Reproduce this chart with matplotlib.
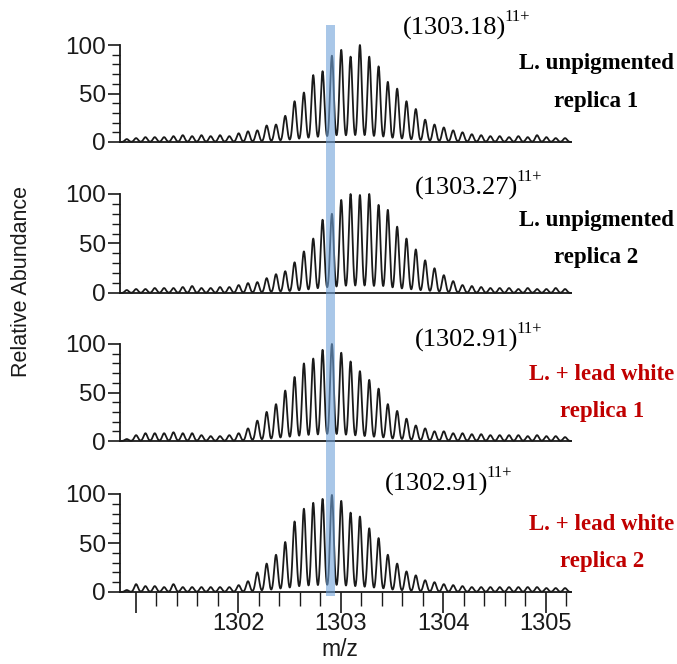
import numpy as np
import matplotlib
matplotlib.use('Agg')
import matplotlib.pyplot as plt
from matplotlib.ticker import MultipleLocator, FixedLocator

# ---------------- data ----------------
# isotope peak centroids (m/z) of the 11+ ion
mz = [1300.913, 1301.004, 1301.095, 1301.186, 1301.277, 1301.368, 1301.459, 1301.550,
      1301.641, 1301.731, 1301.822, 1301.913, 1302.004, 1302.095, 1302.186, 1302.277,
      1302.368, 1302.458, 1302.549, 1302.640, 1302.731, 1302.822, 1302.913, 1303.004,
      1303.095, 1303.186, 1303.277, 1303.368, 1303.458, 1303.549, 1303.640, 1303.731,
      1303.822, 1303.913, 1304.004, 1304.095, 1304.186, 1304.277, 1304.368, 1304.458,
      1304.549, 1304.640, 1304.731, 1304.822, 1304.913, 1305.004, 1305.095, 1305.186]

unpig_rep1 = [3, 4, 5, 5, 5, 6, 7, 6, 7, 6, 7, 6,
              9, 11, 12, 17, 18, 27, 42, 51, 69, 73,
              89, 95, 88, 100, 88, 78, 62, 55, 42, 34, 23, 18, 15, 12,
              10, 8, 7, 6, 6, 5, 6, 5, 7, 5, 4, 4]
unpig_rep2 = [3, 4, 4, 5, 5, 5, 6, 7, 5, 5, 6, 6,
              8, 10, 11, 15, 19, 22, 31, 42, 55, 74,
              80, 94, 100, 99, 100, 89, 84, 67, 55, 44, 33, 25, 18, 12,
              8, 7, 6, 5, 5, 5, 4, 5, 4, 4, 5, 4]
lead_rep1 = [2, 6, 8, 8, 8, 9, 8, 8, 6, 5, 5, 6,
             8, 13, 21, 30, 38, 52, 66, 80, 85, 94,
             100, 91, 82, 72, 63, 54, 38, 31, 23, 16, 13, 10, 10, 8,
             8, 7, 7, 6, 6, 6, 6, 5, 6, 5, 5, 4]
lead_rep2 = [2, 8, 6, 6, 5, 8, 5, 5, 5, 5, 5, 5,
             7, 11, 20, 29, 38, 51, 72, 85, 91, 95,
             99, 93, 81, 77, 65, 55, 38, 29, 21, 17, 12, 10, 8, 7,
             6, 5, 5, 5, 5, 5, 5, 5, 5, 4, 4, 4]

series = [unpig_rep1, unpig_rep2, lead_rep1, lead_rep2]
apex_labels = ["(1303.18)", "(1303.27)", "(1302.91)", "(1302.91)"]
charge = "11+"
sample_line1 = ["L. unpigmented", "L. unpigmented", "L. + lead white", "L. + lead white"]
sample_line2 = ["replica 1", "replica 2", "replica 1", "replica 2"]
sample_colors = ["black", "black", "#C00000", "#C00000"]
x_major = [1301, 1302, 1303, 1304, 1305]
x_major_labels = ["", "1302", "1303", "1304", "1305"]
highlight = (1302.855, 1302.945)

# ---------------- layout ----------------
W, H = 677, 664
fig = plt.figure(figsize=(W / 100, H / 100), dpi=100)

def fx(x):
    return x / W

def fy(y):
    return 1 - y / H

xlim = (1300.847, 1305.244)
x_l, x_r = 120, 571
grid = np.linspace(xlim[0], xlim[1], 4000)
sigma = 0.0178

panel_px = [(142, 45), (293, 194), (441, 344), (592, 494)]
sans = ['Liberation Sans', 'DejaVu Sans']
serif = ['Liberation Serif', 'DejaVu Serif']

for i, (y0, y100) in enumerate(panel_px):
    ax = fig.add_axes([fx(x_l), fy(y0), (x_r - x_l) / W, (y0 - y100) / H])
    heights = np.array(series[i], dtype=float)
    prof = np.zeros_like(grid)
    for m, h in zip(mz, heights):
        prof += h * np.exp(-0.5 * ((grid - m) / sigma) ** 2)
    ax.plot(grid, prof, color='#1a1a1a', lw=1.3, clip_on=False, zorder=3)
    ax.set_xlim(xlim)
    ax.set_ylim(0, 100)
    ax.patch.set_alpha(0)
    for s in ['top', 'right']:
        ax.spines[s].set_visible(False)
    for s in ['left', 'bottom']:
        ax.spines[s].set_linewidth(1.3)
        ax.spines[s].set_color('#1a1a1a')
    ax.set_yticks([0, 50, 100])
    ax.yaxis.set_minor_locator(MultipleLocator(10))
    ax.tick_params(axis='y', which='major', direction='out', length=9, width=1.2,
                   labelsize=17.5, pad=1, colors='#1a1a1a')
    ax.tick_params(axis='y', which='minor', direction='out', length=6, width=1.0,
                   colors='#1a1a1a')
    for lab in ax.get_yticklabels():
        lab.set_family(sans)
    if i < 3:
        ax.tick_params(axis='x', which='both', bottom=False, labelbottom=False)
    else:
        ax.xaxis.set_major_locator(FixedLocator(x_major))
        ax.set_xticklabels(x_major_labels)
        ax.xaxis.set_minor_locator(MultipleLocator(0.2))
        ax.tick_params(axis='x', which='major', direction='out', length=15, width=1.2,
                       labelsize=17, pad=0, colors='#1a1a1a')
        ax.tick_params(axis='x', which='minor', direction='out', length=10, width=1.0,
                       colors='#1a1a1a')
        for lab in ax.get_xticklabels():
            lab.set_family(sans)

# highlight band spanning all panels
band_top, band_bot = 25, 596
bax = fig.add_axes([fx(x_l), fy(band_bot), (x_r - x_l) / W, (band_bot - band_top) / H],
                   zorder=10)
bax.set_xlim(xlim)
bax.set_ylim(0, 1)
bax.axis('off')
bax.patch.set_alpha(0)
bax.axvspan(highlight[0], highlight[1], color='#71a3d9', alpha=0.6, lw=0)

# apex m/z labels
apex_pos = [(403, 28), (415, 188), (415, 340), (385, 484)]
for i, (x, y) in enumerate(apex_pos):
    fig.text(fx(x), fy(y), apex_labels[i], ha='left', va='center',
             fontsize=19, family=serif, color='black')
    fig.text(fx(x + 101), fy(y - 11), charge, ha='left', va='center',
             fontsize=12, family=serif, color='black')

# sample labels
sample_pos = [(596, 64, 102), (596, 221, 258), (602, 375, 412), (602, 524, 561)]
for i, (x, y1, y2) in enumerate(sample_pos):
    fig.text(fx(x), fy(y1), sample_line1[i], ha='center', va='center', fontsize=16.5,
             family=serif, weight='bold', color=sample_colors[i])
    fig.text(fx(x), fy(y2), sample_line2[i], ha='center', va='center', fontsize=16.5,
             family=serif, weight='bold', color=sample_colors[i])

fig.text(fx(22), fy(282), 'Relative Abundance', rotation=90, ha='center', va='center',
         fontsize=15.5, family=sans, color='#1a1a1a')
fig.text(fx(340), fy(650), 'm/z', ha='center', va='center', fontsize=16.5,
         family=sans, color='#1a1a1a')

fig.savefig('out.png', dpi=100)
